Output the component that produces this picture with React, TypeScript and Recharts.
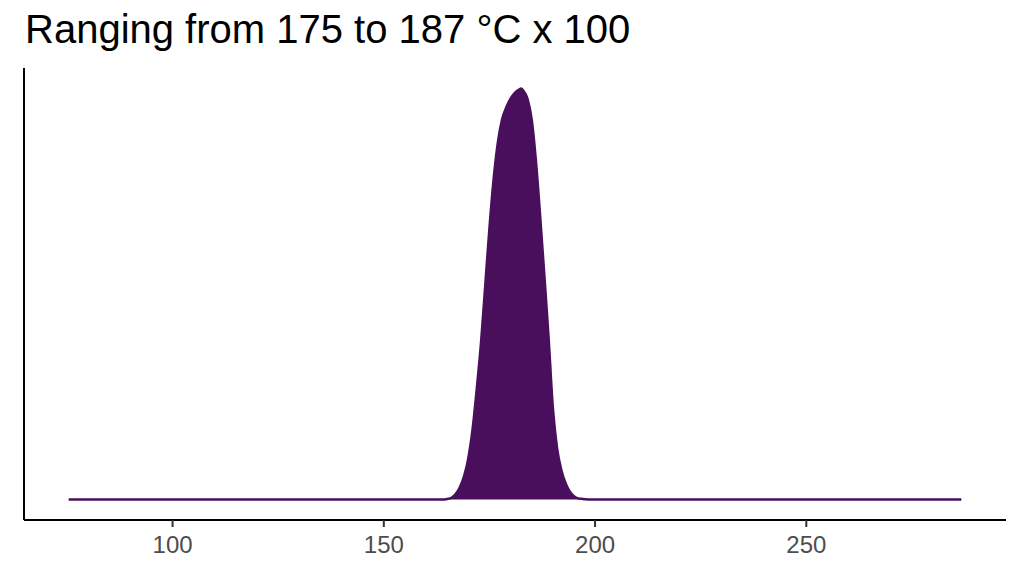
import React from 'react';
import { AreaChart, Area, XAxis, YAxis } from 'recharts';

// temperature (x100 °C) and density
const temps = [
  75.4, 120, 160, 164, 165, 166, 167, 168, 169, 170, 171, 172, 173, 174, 175, 176, 177, 178, 179, 180, 181, 182,
  182.5, 183, 184, 185, 186, 187, 188, 189, 190, 191, 192, 193, 194, 195, 196, 197, 200, 240, 286.7,
];
const density = [
  0, 0, 0, 0, 0.0001, 0.0003, 0.001, 0.0023, 0.0044, 0.0078, 0.0132, 0.0209, 0.0295, 0.0403, 0.0512, 0.0605,
  0.0674, 0.0717, 0.074, 0.0756, 0.0767, 0.0773, 0.0775, 0.0771, 0.0756, 0.0717, 0.0639, 0.0535, 0.0422, 0.0306,
  0.0174, 0.0097, 0.0056, 0.0031, 0.0015, 0.0006, 0.0002, 0.0001, 0, 0, 0,
];
const xTicks = [100, 150, 200, 250];
const title = 'Ranging from 175 to 187 °C x 100';

const data = temps.map((t, i) => ({ temp: t, density: density[i] }));

const xMin = Math.min(...temps);
const xMax = Math.max(...temps);
const xPad = (xMax - xMin) * 0.05;
const yMax = Math.max(...density);

const fillColor = '#4A0F5C';

export default function App() {
  return (
    <div
      style={{
        position: 'fixed',
        top: 0,
        left: 0,
        width: 1024,
        height: 576,
        background: '#fff',
        fontFamily: '"Liberation Sans", Arial, sans-serif',
      }}
    >
      <div
        style={{
          position: 'absolute',
          left: 25,
          top: 9,
          fontSize: 40,
          lineHeight: '40px',
          color: '#000',
          whiteSpace: 'nowrap',
        }}
      >
        {title}
      </div>
      <AreaChart width={1024} height={576} data={data} margin={{ top: 68, right: 18, left: 23, bottom: 0 }}>
        <XAxis
          dataKey="temp"
          type="number"
          domain={[xMin - xPad, xMax + xPad]}
          ticks={xTicks}
          allowDataOverflow
          height={56}
          axisLine={{ stroke: '#000', strokeWidth: 2 }}
          tickLine={{ stroke: '#333', strokeWidth: 2 }}
          tickSize={7}
          tickMargin={9}
          tick={{ fill: '#4D4D4D', fontSize: 24, fontFamily: '"Liberation Sans", Arial, sans-serif' }}
        />
        <YAxis
          type="number"
          domain={[-0.05 * yMax, 1.05 * yMax]}
          allowDataOverflow
          width={1}
          tick={false}
          tickLine={false}
          axisLine={{ stroke: '#000', strokeWidth: 2 }}
        />
        <Area
          type="monotone"
          dataKey="density"
          baseValue={0}
          stroke={fillColor}
          strokeWidth={2.5}
          fill={fillColor}
          fillOpacity={1}
          dot={false}
          activeDot={false}
          isAnimationActive={false}
        />
      </AreaChart>
    </div>
  );
}
